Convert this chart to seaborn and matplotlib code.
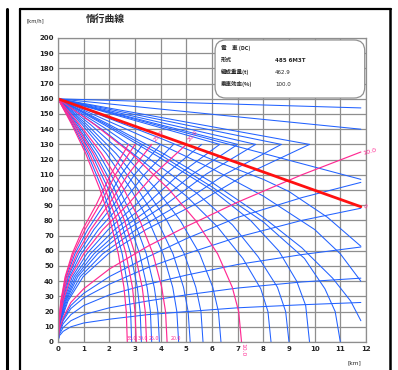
import matplotlib
matplotlib.use("Agg")
import matplotlib.pyplot as plt
import pandas as pd
import seaborn as sns
from matplotlib.patches import FancyBboxPatch
from matplotlib.lines import Line2D

sns.set_style("white")
plt.rcParams['font.family'] = ['Noto Sans CJK JP', 'DejaVu Sans']

BLUE = '#2262ff'
PINK = '#ff2a93'
RED = '#ff1010'

x_ticks = list(range(0, 13))
y_ticks = list(range(0, 201, 10))

# --- coasting uphill from 160 km/h down to 0 (steep grades) ---
down_steep_label = ['35.0', '', '30.0', '', '25.0', '', '', '20.0', '', '', '', '', '10.0']
down_steep_speed = [160, 143, 124, 101, 80, 58, 36, 20, 0]
down_steep_x = [
    [0, .54, 1.08, 1.62, 2.03, 2.35, 2.57, 2.66, 2.70],
    [0, .57, 1.15, 1.72, 2.15, 2.50, 2.73, 2.83, 2.87],
    [0, .61, 1.22, 1.83, 2.29, 2.65, 2.90, 3.00, 3.05],
    [0, .65, 1.30, 1.95, 2.44, 2.83, 3.09, 3.20, 3.25],
    [0, .69, 1.38, 2.07, 2.59, 3.00, 3.28, 3.40, 3.45],
    [0, .73, 1.46, 2.19, 2.74, 3.18, 3.47, 3.60, 3.65],
    [0, .79, 1.58, 2.37, 2.96, 3.44, 3.75, 3.89, 3.95],
    [0, .85, 1.70, 2.55, 3.19, 3.70, 4.04, 4.19, 4.25],
    [0, .94, 1.88, 2.82, 3.53, 4.09, 4.47, 4.63, 4.70],
    [0, 1.03, 2.06, 3.09, 3.86, 4.48, 4.89, 5.07, 5.15],
    [0, 1.13, 2.26, 3.39, 4.24, 4.92, 5.37, 5.57, 5.65],
    [0, 1.27, 2.54, 3.81, 4.76, 5.52, 6.03, 6.25, 6.35],
    [0, 1.43, 2.86, 4.29, 5.36, 6.22, 6.79, 7.04, 7.15],
]

# --- coasting uphill from 160 km/h, mild grades ---
down_mild_x = [
    [0, 1.7, 3.3, 5.0, 6.2, 7.2, 7.9, 8.18, 8.3],
    [0, 1.8, 3.6, 5.4, 6.8, 7.8, 8.55, 8.87, 9.0],
    [0, 2, 4, 6, 7.5, 8.6, 9.3, 9.65, 9.8],
    [0, 2, 4, 6, 8, 9.6, 10.4, 10.8, 11.0],
    [0, 2, 4, 6, 8, 9.5, 10.7, 11.4, 11.8],
    [0, 2, 4, 6, 8, 10, 11, 11.8],
    [0, 2, 4, 6, 8, 9, 10.5, 11.8],
]
down_mild_v = [
    [160, 140, 119, 96, 76, 55, 35, 20, 0],
    [160, 141, 120, 98, 77, 56, 36, 20, 0],
    [160, 141, 121, 100, 80, 60, 40, 24, 0],
    [160, 142, 123, 102, 79, 55, 35, 20, 0],
    [160, 143, 125, 105, 82, 62, 42, 27, 14],
    [160, 145, 130, 114, 96, 74, 58, 40],
    [160, 147, 134, 120, 107, 99, 82, 63],
]

# --- nearly flat lines from 160 km/h (downhill grades) ---
flat_end_x = [11.8, 11.8, 11.8, 9.8, 8.7, 7.7, 7.0, 6.3]
flat_end_v = [154, 140, 107, 130, 130, 130, 130, 130]

# --- level track (red) ---
level_x = [0, 11.8]
level_v = [160, 89]

# --- coasting downhill from standstill, reaching right edge ---
rise_edge_x = [0, .05, .2, .5, 1, 2, 3.5, 5, 7, 9.5, 11.8]
rise_edge_label = ['', '', '', '', '', '10.0']
rise_edge_v = [
    [0, 4, 7, 10, 12.5, 15, 18, 20, 22.5, 24.5, 26],
    [0, 5, 9.5, 14, 18, 22.5, 27, 31, 35.5, 39.5, 42],
    [0, 6, 12, 18, 24, 31, 38, 44, 51, 57.5, 62.5],
    [0, 7, 14, 22, 29, 38, 49, 58, 69, 80, 88],
    [0, 8, 15, 24, 32, 43, 56, 68, 82, 95, 105],
    [0, 8, 16, 26, 35, 48, 63, 76, 92, 110, 125],
]

# --- coasting downhill from standstill, up to 130 km/h ---
rise_cap_speed = [0, 13, 27, 43, 58, 74, 91, 110.5, 130]
rise_cap_label = ['', '', '', '', '', '', '20.0', '', '', '25.0', '', '30.0', '35.0']
rise_cap_x = [
    [0, .10, .39, .98, 1.96, 3.43, 5.39, 7.35, 9.8],
    [0, .09, .35, .87, 1.74, 3.05, 4.79, 6.53, 8.7],
    [0, .08, .31, .77, 1.54, 2.70, 4.24, 5.78, 7.7],
    [0, .07, .28, .70, 1.40, 2.45, 3.85, 5.25, 7.0],
    [0, .06, .25, .63, 1.26, 2.21, 3.47, 4.73, 6.3],
    [0, .06, .22, .56, 1.12, 1.96, 3.08, 4.20, 5.6],
    [0, .05, .20, .50, 1.00, 1.75, 2.75, 3.75, 5.0],
    [0, .05, .18, .45, .90, 1.58, 2.48, 3.38, 4.5],
    [0, .04, .16, .40, .80, 1.40, 2.20, 3.00, 4.0],
    [0, .04, .15, .37, .73, 1.28, 2.00, 2.74, 3.65],
    [0, .03, .13, .33, .66, 1.16, 1.82, 2.48, 3.3],
    [0, .03, .12, .30, .60, 1.05, 1.65, 2.25, 3.0],
    [0, .03, .11, .28, .55, .96, 1.51, 2.06, 2.75],
]

bottom_labels = ['35.0', '30.0', '25.0', '20.0']
bottom_label_x = [2.68, 3.1, 3.53, 4.38]

info_keys = ['電　車 (DC)', '形式', '編成重量(t)', '乗車効率(%)']
info_vals = ['', '485 6M3T', '462.9', '100.0']

# ---------------- build long table ----------------
rows = []
cid = 0


def add(xs, vs, kind):
    global cid
    for a, b in zip(xs, vs):
        rows.append((cid, kind, a, b))
    cid += 1


for lab, xs in zip(down_steep_label, down_steep_x):
    add(xs, down_steep_speed, 'pink' if lab else 'blue')
for xs, vs in zip(down_mild_x, down_mild_v):
    add(xs, vs, 'blue')
for xe, ve in zip(flat_end_x, flat_end_v):
    add([0, xe], [160, ve], 'blue')
for lab, vs in zip(rise_edge_label, rise_edge_v):
    add(rise_edge_x, vs, 'pink' if lab else 'blue')
for lab, xs in zip(rise_cap_label, rise_cap_x):
    add(xs, rise_cap_speed, 'pink' if lab else 'blue')
add(level_x, level_v, 'red')

df = pd.DataFrame(rows, columns=['curve', 'kind', 'km', 'kmh'])

W, H = 398, 370
fig = plt.figure(figsize=(W / 100, H / 100), dpi=100)
ax = fig.add_axes([58 / W, 1 - 342 / H, 308 / W, 304 / H])

for kind, col, lw in [('blue', BLUE, 0.75), ('pink', PINK, 0.85), ('red', RED, 2.0)]:
    sns.lineplot(data=df[df.kind == kind], x='km', y='kmh', units='curve',
                 estimator=None, sort=False, color=col, linewidth=lw,
                 ax=ax, legend=False)

ax.set_xlim(0, 12)
ax.set_ylim(0, 200)
ax.set_xticks(x_ticks)
ax.set_yticks(y_ticks)
ax.set_xlabel('')
ax.set_ylabel('')
ax.grid(True, color='#8e8e8e', lw=0.9)
ax.set_axisbelow(True)
for s in ax.spines.values():
    s.set_color('#8e8e8e')
    s.set_linewidth(0.9)
ax.tick_params(length=0, labelsize=5, pad=3)
for t in ax.get_xticklabels() + ax.get_yticklabels():
    t.set_fontweight('bold')
    t.set_family(['DejaVu Sans'])

# info box
box = FancyBboxPatch((6.12, 160.5), 11.95 - 6.12, 198.7 - 160.5,
                     boxstyle='round,pad=0,rounding_size=0.42',
                     mutation_aspect=16.9, facecolor='white',
                     edgecolor='#909090', lw=0.9, zorder=5)
ax.add_patch(box)
for i, (k, v) in enumerate(zip(info_keys, info_vals)):
    yy = 193.4 - i * 7.9
    ax.text(6.35, yy, k, fontsize=4, fontweight='bold', va='center', ha='left', zorder=6)
    if v:
        ax.text(8.45, yy, v, fontsize=4, fontweight='bold' if i == 1 else 'normal',
                va='center', ha='left', zorder=6, family=['DejaVu Sans'])

# gradient labels
for lab, xp in zip(bottom_labels, bottom_label_x):
    ax.text(xp, 0.6, lab, fontsize=3.4, color=PINK, ha='left', va='bottom',
            family=['DejaVu Sans'], zorder=7)
ax.text(7.2, -0.5, '10.0', fontsize=4.3, color=PINK, rotation=-90, ha='center',
        va='top', clip_on=False, family=['DejaVu Sans'])
ax.text(3.68, 131, '25.0', fontsize=4.3, color=PINK, rotation=50, ha='left',
        va='bottom', family=['DejaVu Sans'])
ax.text(5.02, 131, '20.0', fontsize=4.3, color=PINK, rotation=50, ha='left',
        va='bottom', family=['DejaVu Sans'])
ax.text(11.85, 125, '10.0', fontsize=4.6, color=PINK, rotation=15, ha='left',
        va='center', clip_on=False, family=['DejaVu Sans'])
ax.text(11.85, 89, '0', fontsize=4, color=PINK, rotation=-30, ha='left',
        va='center', clip_on=False, family=['DejaVu Sans'])

# titles / units
fig.text(86 / W, 1 - 19 / H, '惰行曲線', fontsize=7, fontweight='bold', va='center', ha='left')
fig.text(26 / W, 1 - 21 / H, '[km/h]', fontsize=3.8, va='center', ha='left',
         family=['DejaVu Sans'])
fig.text(347 / W, 1 - 363 / H, '[km]', fontsize=4.2, va='center', ha='left',
         family=['DejaVu Sans'])

# panel frame lines
fig.add_artist(Line2D([7 / W, 7 / W], [0, 1 - 9 / H], color='black', lw=2.2,
                      transform=fig.transFigure))
fig.add_artist(Line2D([20 / W, 20 / W], [0, 1 - 9 / H], color='black', lw=1.6,
                      transform=fig.transFigure))
fig.add_artist(Line2D([20 / W, 391 / W], [1 - 9 / H, 1 - 9 / H], color='black', lw=1.6,
                      transform=fig.transFigure))
fig.add_artist(Line2D([390 / W, 390 / W], [0, 1 - 9 / H], color='black', lw=1.8,
                      transform=fig.transFigure))

fig.savefig('out.png', dpi=100)
